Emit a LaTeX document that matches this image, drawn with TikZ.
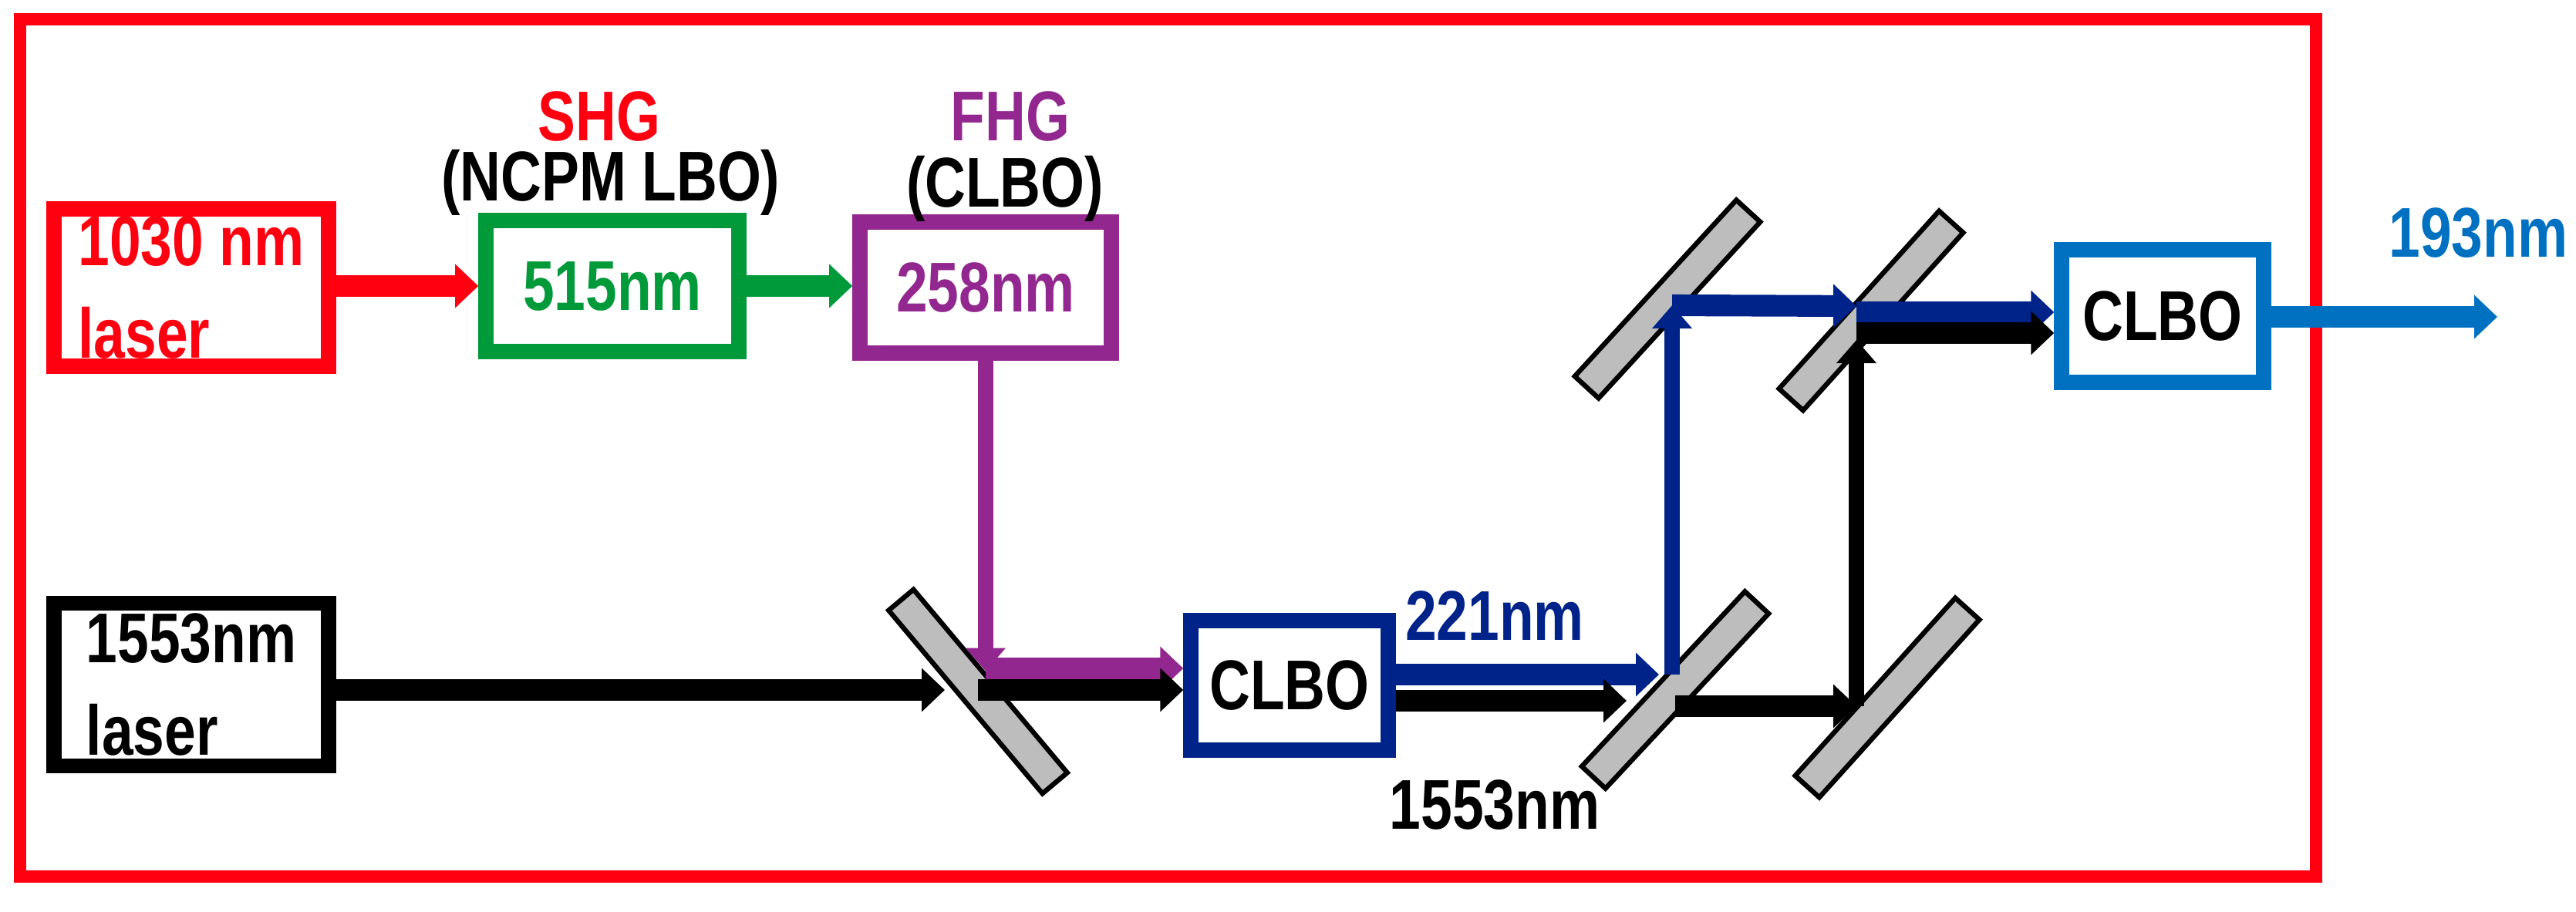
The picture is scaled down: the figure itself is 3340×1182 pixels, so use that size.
\documentclass[tikz,border=0pt]{standalone}
\usepackage{fontspec}
\setmainfont{Liberation Sans}[FakeStretch=0.8]
\usetikzlibrary{arrows.meta}
\definecolor{cred}{HTML}{FF0010}
\definecolor{cgreen}{HTML}{009A3A}
\definecolor{cpurple}{HTML}{92278F}
\definecolor{cblue}{HTML}{00238A}
\definecolor{clight}{HTML}{0070C0}
\definecolor{cgray}{HTML}{BDBDBD}
\tikzset{
  box/.style={draw, line width=5.5pt, fill=white, inner sep=0pt, font=\bfseries\fontsize{26}{30}\selectfont, align=left},
  mirror/.style={draw=black, line width=1.8pt, fill=cgray, minimum width=3.1cm, minimum height=0.42cm, inner sep=0pt},
  beam/.style={line width=8pt, -{Triangle[length=0.3cm, width=0.55cm]}},
  thinbeam/.style={line width=5.5pt, -{Triangle[length=0.3cm, width=0.5cm]}},
  lbl/.style={font=\bfseries\fontsize{26}{30}\selectfont, inner sep=0pt}
}
\begin{document}
\begin{tikzpicture}[x=0.01cm, y=-0.01cm]
\useasboundingbox (0,0) rectangle (3340,1182);
\draw[cred, line width=4.5pt] (26,25) rectangle (3003,1137);
% boxes
\node[box, draw=cred, text=cred, minimum width=3.56cm, minimum height=2.04cm] (l1030) at (248,373) {1030 nm\hspace{0.45cm}\\[4pt]laser};
\node[box, draw=cgreen, text=cgreen, minimum width=3.28cm, minimum height=1.7cm, align=center] (shg) at (794,371) {515nm};
\node[box, draw=cpurple, text=cpurple, minimum width=3.26cm, minimum height=1.7cm, align=center] (fhg) at (1278,373) {258nm};
\node[box, draw=black, text=black, minimum width=3.56cm, minimum height=2.11cm] (l1553) at (248,888) {1553nm\hspace{0.45cm}\\[4pt]laser};
\node[box, draw=cblue, text=black, minimum width=2.56cm, minimum height=1.68cm, align=center] (clbo1) at (1672,889) {CLBO};
\node[box, draw=clight, text=black, minimum width=2.62cm, minimum height=1.72cm, align=center] (clbo2) at (2804,410) {CLBO};
% labels
\node[lbl, text=cred] (tshg) at (777,151) {SHG};
\node[lbl, text=black] (tncpm) at (792,237) {(NCPM LBO)};
\node[lbl, text=cpurple] (tfhg) at (1310,151) {FHG};
\node[lbl, text=black] (tclbo) at (1303,245) {(CLBO)};
\node[lbl, text=cblue] (t221) at (1938,799) {221nm};
\node[lbl, text=black] (t1553) at (1938,1044) {1553nm};
\node[lbl, text=clight, anchor=east] (t193) at (3330,302) {193nm};
% mirrors
\node[mirror, rotate=-50] (m1) at (1268,897) {};
\node[mirror, rotate=47] (m2) at (2172,895) {};
\node[mirror, rotate=47.5] (m3) at (2162,388) {};
\node[mirror, rotate=48] (m4) at (2426,403) {};
\node[mirror, rotate=48] (m5) at (2447,905) {};
% beam coordinates
\coordinate (p1) at (1278,867);
\coordinate (b1) at (1225,895);
\coordinate (b2) at (1268,895);
\coordinate (u1) at (2151,875);
\coordinate (u2) at (2168,875);
\coordinate (u3) at (2168,396);
\coordinate (u4) at (2407,397);
\coordinate (u5) at (2407,405);
\coordinate (k1) at (2109,909);
\coordinate (k2) at (2172,916);
\coordinate (k3) at (2407,916);
\coordinate (k4) at (2407,441);
\coordinate (k5) at (2407,432);
\coordinate (out) at (3238,411);
% beams
\draw[beam, cred] (l1030.east |- shg.west) -- (shg.west);
\draw[beam, cgreen] (shg.east) -- (shg.east -| fhg.west);
\draw[thinbeam, cpurple] (fhg.south) -- ([yshift=-1]p1);
\draw[beam, cpurple] (p1) -- (p1 -| clbo1.west);
\draw[beam, black] (l1553.east |- b1) -- (b1);
\draw[beam, black] (b2) -- (b2 -| clbo1.west);
\draw[beam, cblue] (clbo1.east |- u1) -- (u1);
\draw[thinbeam, cblue] (u2) -- (u3);
\draw[beam, cblue] (u3) -- (u4);
\draw[beam, cblue] (u5) -- (u5 -| clbo2.west);
\draw[beam, black] (clbo1.east |- k1) -- (k1);
\draw[beam, black] (k2) -- (k3);
\draw[thinbeam, black] (k3) -- (k4);
\draw[beam, black] (k5) -- (k5 -| clbo2.west);
\draw[beam, clight] (clbo2.east |- out) -- (out);
\end{tikzpicture}
\end{document}
